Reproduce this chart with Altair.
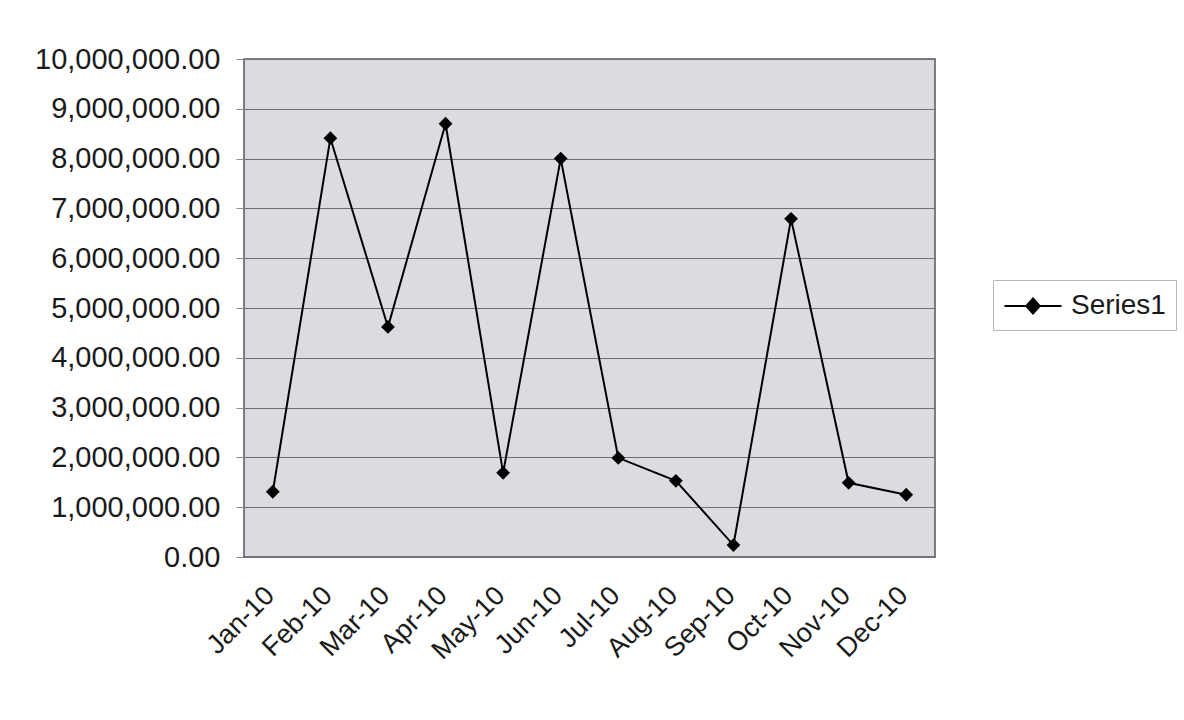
import altair as alt
import pandas as pd

months = ["Jan-10", "Feb-10", "Mar-10", "Apr-10", "May-10", "Jun-10",
          "Jul-10", "Aug-10", "Sep-10", "Oct-10", "Nov-10", "Dec-10"]
values = [1310000, 8410000, 4620000, 8700000, 1690000, 8000000,
          1990000, 1530000, 240000, 6790000, 1490000, 1250000]
series = ["Series1"] * len(months)

df = pd.DataFrame({"month": months, "value": values, "series": series})

FONT = "Liberation Sans"
TEXT = "#1a1a1a"

x_enc = alt.X("month:O", sort=months, title=None,
              scale=alt.Scale(type="point", padding=0.5),
              axis=alt.Axis(labelAngle=-45, labelAlign="right", labelBaseline="middle",
                            labelFontSize=27, labelFont=FONT, labelColor=TEXT,
                            labelPadding=34, labelOffset=-3,
                            ticks=False, domain=False, grid=False))
y_enc = alt.Y("value:Q", title=None,
              scale=alt.Scale(domain=[0, 10000000], nice=False),
              axis=alt.Axis(values=[i * 1000000 for i in range(11)], format=",.2f",
                            labelFontSize=29, labelFont=FONT, labelColor=TEXT,
                            labelLimit=400, labelPadding=16, tickSize=8,
                            tickColor="#8a8a8a", domain=False, grid=True,
                            gridColor="#6e6e78", gridWidth=1))

# line segment with a filled diamond in the middle, as the legend key
legend_symbol = "M-1.9,0H1.9M0,-0.5L0.45,0L0,0.5L-0.45,0Z"

line = alt.Chart(df).mark_line(color="black", strokeWidth=2).encode(
    x=x_enc, y=y_enc,
    color=alt.Color("series:N", scale=alt.Scale(range=["black"]),
                    legend=alt.Legend(title=None, orient="none", legendX=749, legendY=221,
                                      symbolType=legend_symbol, symbolSize=900,
                                      symbolStrokeWidth=2, symbolFillColor="black",
                                      symbolStrokeColor="black", symbolOffset=14,
                                      labelOffset=22,
                                      labelFontSize=28, labelFont=FONT, labelColor=TEXT,
                                      labelLimit=300, padding=10, strokeColor="#b8b8b8",
                                      fillColor="white")),
)

points = alt.Chart(df).mark_point(shape="diamond", filled=True, color="black",
                                  size=190, opacity=1).encode(x=x_enc, y=y_enc)

chart = alt.layer(line, points).properties(
    width=691, height=498,
    background="white",
    autosize=alt.AutoSizeParams(type="none"),
    padding={"left": 244, "top": 59, "right": 249, "bottom": 163},
).configure_view(
    fill="#dcdbe2", stroke="#55555c", strokeWidth=1.5
)

chart.save("out.html", embed_options={"renderer": "svg", "actions": False})
